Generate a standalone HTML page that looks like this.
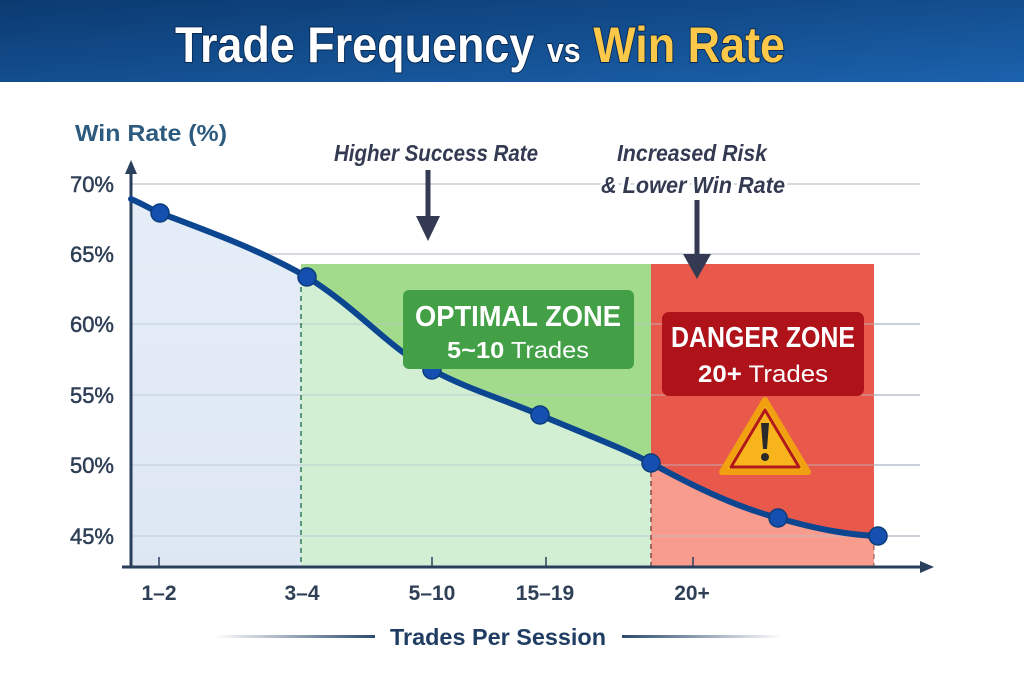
<!DOCTYPE html>
<html><head><meta charset="utf-8"><style>
html,body{margin:0;padding:0;background:#fff;}
svg{display:block;font-family:"Liberation Sans",sans-serif;}
</style></head><body>
<svg width="1024" height="683" viewBox="0 0 1024 683" xmlns="http://www.w3.org/2000/svg">
<defs>
<linearGradient id="hdr" x1="0" y1="0" x2="1" y2="1">
<stop offset="0" stop-color="#0b3a70"/><stop offset="1" stop-color="#1b62ad"/>
</linearGradient>
<linearGradient id="blu" x1="0" y1="0" x2="0" y2="1"><stop offset="0" stop-color="#e6eef8"/><stop offset="1" stop-color="#dde7f3"/></linearGradient>
<linearGradient id="ln1" x1="0" x2="1"><stop offset="0" stop-color="#fff"/><stop offset="1" stop-color="#2c4a6e"/></linearGradient>
<linearGradient id="ln2" x1="0" x2="1"><stop offset="0" stop-color="#2c4a6e"/><stop offset="1" stop-color="#fff"/></linearGradient>
<clipPath id="below"><path d="M131,199 C145,205 150,209 160,213 C210,232 260,250 307,277 C360,310 390,350 432,370 C470,390 500,398 540,415 C580,432 620,447 651,463 C700,490 740,508 778,518 C820,530 850,535 878,536 L878,567 L131,567 Z"/></clipPath>
</defs>
<rect x="0" y="0" width="1024" height="82" fill="url(#hdr)"/>
<text x="480" y="62" text-anchor="middle" font-size="50" font-weight="bold" fill="#fff" textLength="610" lengthAdjust="spacingAndGlyphs" style="paint-order:stroke" stroke="#062a55" stroke-width="2">Trade Frequency <tspan font-size="34">vs</tspan> <tspan fill="#fcc84a">Win Rate</tspan></text>

<g stroke="#d6d9de" stroke-width="2">
<line x1="131" y1="184" x2="920" y2="184"/><line x1="131" y1="254" x2="920" y2="254"/>
<line x1="131" y1="324" x2="920" y2="324"/><line x1="131" y1="395" x2="920" y2="395"/>
<line x1="131" y1="465" x2="920" y2="465"/><line x1="131" y1="536" x2="920" y2="536"/>
</g>
<rect x="301" y="264" width="350" height="303" fill="#a3db8c"/>
<rect x="651" y="264" width="223" height="303" fill="#e8594b"/>
<g clip-path="url(#below)">
<rect x="131" y="150" width="170" height="417" fill="url(#blu)"/>
<rect x="301" y="150" width="350" height="417" fill="#d2efd4"/>
<rect x="651" y="150" width="223" height="417" fill="#f89c8e"/>
</g>
<g stroke="#b9c3cf" stroke-width="1.2" opacity="0.6">
<line x1="131" y1="324" x2="920" y2="324"/><line x1="131" y1="395" x2="920" y2="395"/>
<line x1="131" y1="465" x2="920" y2="465"/><line x1="131" y1="536" x2="920" y2="536"/>
</g>
<line x1="301" y1="278" x2="301" y2="567" stroke="#2e7d4f" stroke-width="1.5" stroke-dasharray="5,4"/>
<line x1="651" y1="463" x2="651" y2="567" stroke="#8a4a4a" stroke-width="1.5" stroke-dasharray="5,4"/>
<line x1="874" y1="536" x2="874" y2="567" stroke="#8a4a4a" stroke-width="1" stroke-dasharray="5,4"/>

<line x1="131" y1="567" x2="131" y2="172" stroke="#2a3f5c" stroke-width="3"/>
<path d="M125,174 L131,160 L137,174 Z" fill="#2a3f5c"/>
<line x1="122" y1="567" x2="922" y2="567" stroke="#2a3f5c" stroke-width="3"/>
<path d="M920,561 L934,567 L920,573 Z" fill="#2a3f5c"/>
<g stroke="#2a3f5c" stroke-width="1.5">
<line x1="159" y1="557" x2="159" y2="567"/><line x1="432" y1="557" x2="432" y2="567"/>
<line x1="546" y1="557" x2="546" y2="567"/><line x1="693" y1="557" x2="693" y2="567"/>
</g>

<path d="M131,199 C145,205 150,209 160,213 C210,232 260,250 307,277 C360,310 390,350 432,370 C470,390 500,398 540,415 C580,432 620,447 651,463 C700,490 740,508 778,518 C820,530 850,535 878,536" fill="none" stroke="#0d4690" stroke-width="6" stroke-linecap="round"/>
<g fill="#1550b0" stroke="#0b3c7a" stroke-width="1.5">
<circle cx="160" cy="213" r="9"/><circle cx="307" cy="277" r="9"/><circle cx="432" cy="370" r="9"/>
<circle cx="540" cy="415" r="9"/><circle cx="651" cy="463" r="9"/><circle cx="778" cy="518" r="9"/><circle cx="878" cy="536" r="9"/>
</g>

<g font-size="22" fill="#2e3f56" text-anchor="end" stroke="#2e3f56" stroke-width="0.5">
<text x="114" y="192">70%</text><text x="114" y="262">65%</text><text x="114" y="332">60%</text>
<text x="114" y="403">55%</text><text x="114" y="473">50%</text><text x="114" y="544">45%</text>
</g>
<text x="75" y="141" font-size="23" font-weight="bold" fill="#2d5b80" textLength="152" lengthAdjust="spacingAndGlyphs">Win Rate (%)</text>

<g font-size="21" font-weight="bold" fill="#2e3f56" text-anchor="middle">
<text x="159" y="600">1–2</text><text x="302" y="600">3–4</text><text x="432" y="600">5–10</text>
<text x="545" y="600">15–19</text><text x="692" y="600">20+</text>
</g>
<rect x="215" y="635" width="160" height="3" fill="url(#ln1)"/>
<rect x="622" y="635" width="160" height="3" fill="url(#ln2)"/>
<text x="498" y="645" text-anchor="middle" font-size="23" font-weight="bold" fill="#1f3d62" textLength="216" lengthAdjust="spacingAndGlyphs">Trades Per Session</text>

<g font-size="23" font-style="italic" font-weight="bold" fill="#333a52" text-anchor="middle" stroke="#fff" stroke-width="6" style="paint-order:stroke">
<text x="436" y="161" textLength="204" lengthAdjust="spacingAndGlyphs">Higher Success Rate</text>
<text x="692" y="161" textLength="150" lengthAdjust="spacingAndGlyphs">Increased Risk</text>
<text x="693" y="193" textLength="184" lengthAdjust="spacingAndGlyphs">&amp; Lower Win Rate</text>
</g>
<line x1="428" y1="170" x2="428" y2="222" stroke="#333a52" stroke-width="5"/>
<path d="M416,216 L428,241 L440,216 Z" fill="#333a52"/>
<line x1="697" y1="200" x2="697" y2="260" stroke="#333a52" stroke-width="5"/>
<path d="M683,254 L697,279 L711,254 Z" fill="#333a52"/>

<rect x="403" y="290" width="231" height="79" rx="6" fill="#43a047"/>
<text x="518" y="326" text-anchor="middle" font-size="29" font-weight="bold" fill="#fff" textLength="206" lengthAdjust="spacingAndGlyphs">OPTIMAL ZONE</text>
<text x="518" y="358" text-anchor="middle" font-size="23" fill="#fff" textLength="142" lengthAdjust="spacingAndGlyphs"><tspan font-weight="bold">5~10</tspan> Trades</text>
<rect x="662" y="312" width="202" height="84" rx="7" fill="#b0121a"/>
<text x="763" y="347" text-anchor="middle" font-size="29" font-weight="bold" fill="#fff" textLength="184" lengthAdjust="spacingAndGlyphs">DANGER ZONE</text>
<text x="763" y="382" text-anchor="middle" font-size="24" fill="#fff" textLength="130" lengthAdjust="spacingAndGlyphs"><tspan font-weight="bold">20+</tspan> Trades</text>
<path d="M765,400 L808,472 L722,472 Z" fill="#f8b41c" stroke="#f0a010" stroke-width="6" stroke-linejoin="round"/>
<path d="M765,410 L799,467 L731,467 Z" fill="#f8b41c" stroke="#b1181b" stroke-width="3" stroke-linejoin="round"/>
<path d="M761,423 L769,423 L767,449 L763,449 Z" fill="#2a2a2a"/>
<circle cx="765" cy="457" r="4" fill="#2a2a2a"/>
</svg>
</body></html>
